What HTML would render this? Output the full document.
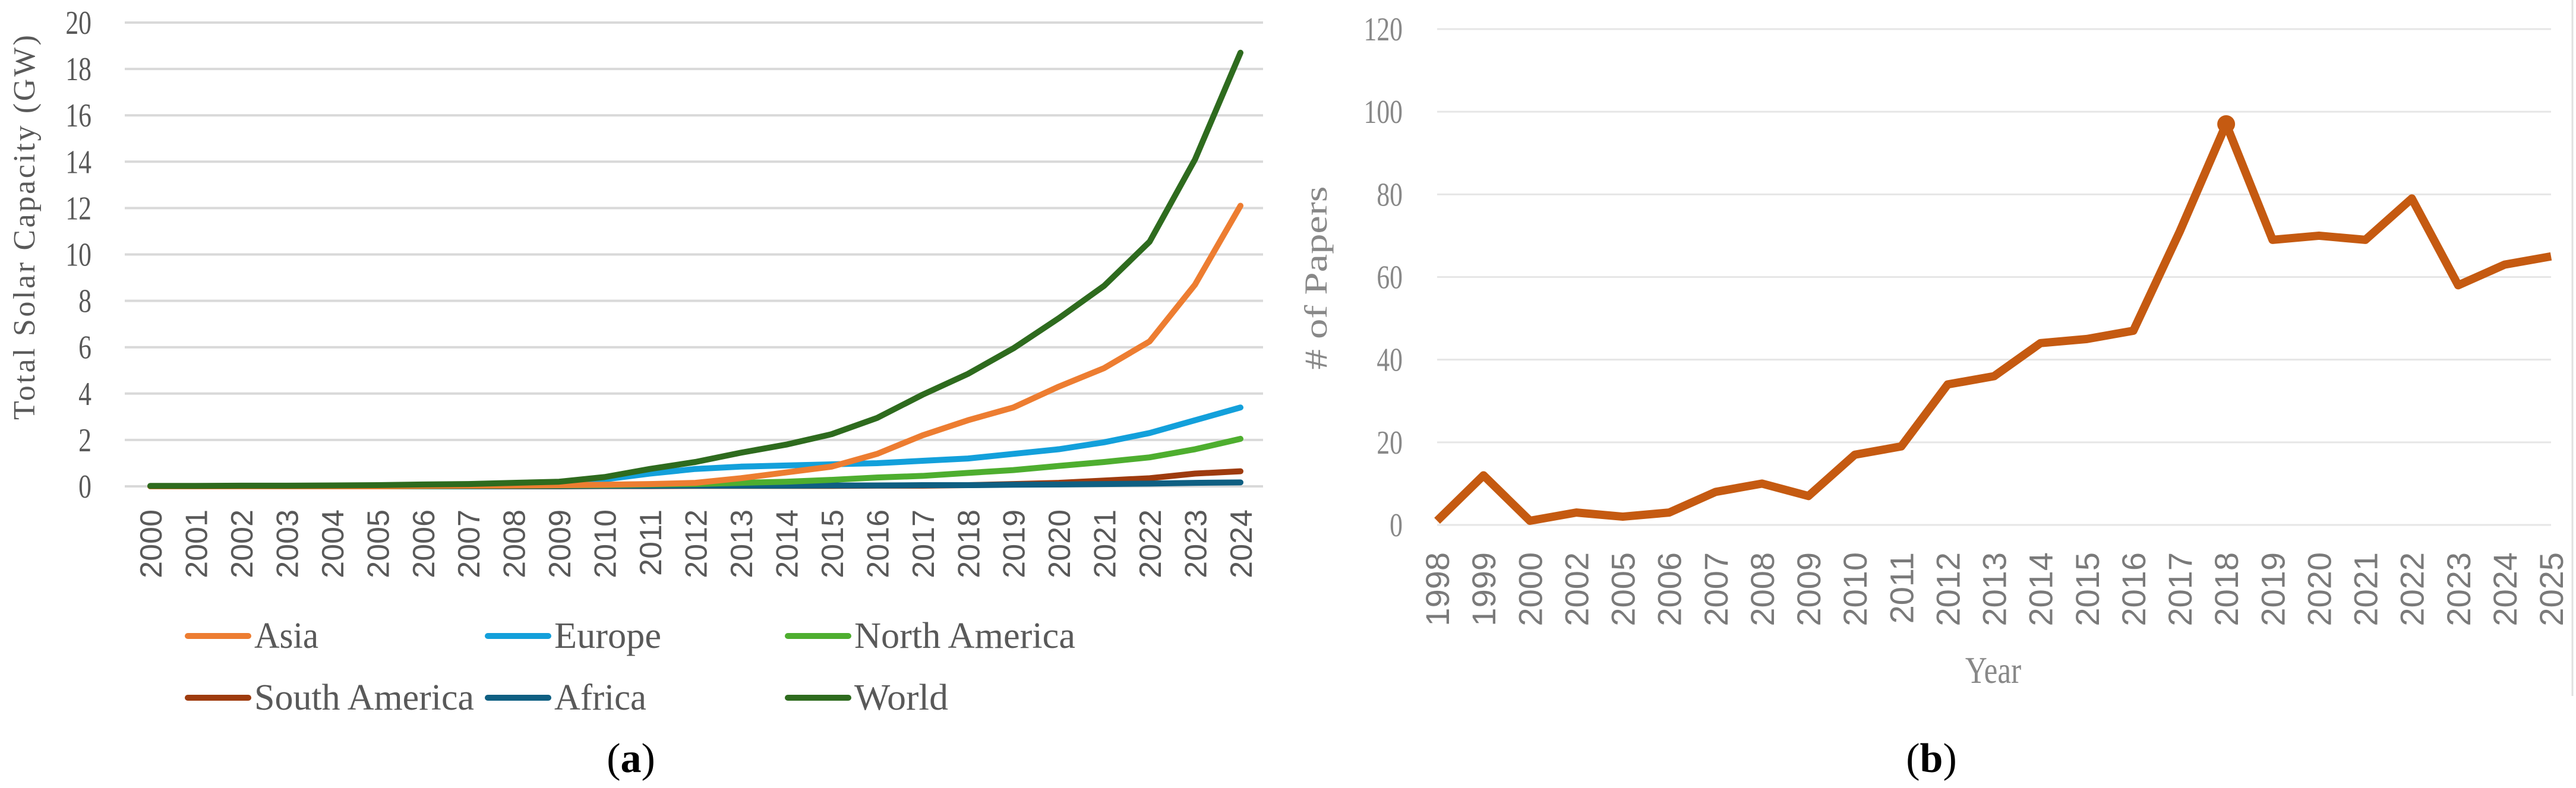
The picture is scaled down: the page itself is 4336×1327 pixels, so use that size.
<!DOCTYPE html>
<html><head><meta charset="utf-8"><style>
html,body{margin:0;padding:0;background:#fff;}
svg{display:block;}
</style></head><body>
<svg id="chart" xmlns="http://www.w3.org/2000/svg" width="4336" height="1327" viewBox="0 0 4336 1327">
<rect width="4336" height="1327" fill="#fff"/>
<g id="ga"></g>
<g id="gb"></g>
</svg>
<script>
const yearsA = ["2000","2001","2002","2003","2004","2005","2006","2007","2008","2009","2010","2011","2012","2013","2014","2015","2016","2017","2018","2019","2020","2021","2022","2023","2024"];
const asia = [0,0,0,0,0,0,0.02,0.03,0.04,0.05,0.07,0.1,0.15,0.35,0.6,0.85,1.4,2.2,2.85,3.4,4.3,5.1,6.25,8.7,12.1];
const europe = [0,0,0,0,0,0.01,0.03,0.05,0.1,0.15,0.3,0.55,0.75,0.85,0.9,0.95,1.0,1.1,1.2,1.4,1.6,1.9,2.3,2.85,3.4];
const northAmerica = [0,0,0,0,0,0,0.01,0.02,0.03,0.04,0.05,0.08,0.1,0.15,0.2,0.28,0.38,0.45,0.58,0.7,0.88,1.05,1.25,1.6,2.05];
const southAmerica = [0,0,0,0,0,0,0,0,0,0,0.01,0.01,0.02,0.02,0.02,0.02,0.03,0.03,0.05,0.1,0.15,0.25,0.35,0.55,0.65];
const africa = [0,0,0,0,0,0,0,0,0.01,0.01,0.02,0.02,0.03,0.03,0.03,0.04,0.04,0.05,0.05,0.07,0.08,0.1,0.12,0.15,0.17];
const world = [0.02,0.02,0.03,0.03,0.04,0.05,0.08,0.1,0.15,0.2,0.4,0.75,1.05,1.45,1.8,2.25,2.95,3.95,4.85,5.95,7.25,8.65,10.55,14.1,18.7];
const ticksA = [0,2,4,6,8,10,12,14,16,18,20];

const yearsB = ["1998","1999","2000","2002","2005","2006","2007","2008","2009","2010","2011","2012","2013","2014","2015","2016","2017","2018","2019","2020","2021","2022","2023","2024","2025"];
const papers = [1,12,1,3,2,3,8,10,7,17,19,34,36,44,45,47,71,97,69,70,69,79,58,63,65];
const ticksB = [0,20,40,60,80,100,120];

const NS="http://www.w3.org/2000/svg";
function mk(parent,tag,attrs,text){const e=document.createElementNS(NS,tag);for(const k in attrs)e.setAttribute(k,attrs[k]);if(text!==undefined)e.textContent=text;parent.appendChild(e);return e;}

// ---- Chart A ----
const ga=document.getElementById('ga');
const ax0=253, ax1=2088, ay0=819, ay1=38;
const xA=i=>ax0+(ax1-ax0)*i/(yearsA.length-1);
const yA=v=>ay0+(ay1-ay0)*v/20;
ticksA.forEach(t=>{
  const l=mk(ga,'line',{x1:210,x2:2126,y1:yA(t),y2:yA(t),stroke:'#d9d9d9','stroke-width':4});
  
  
  const tx=mk(ga,'text',{x:154,y:yA(t)+19,'text-anchor':'end','font-family':'Liberation Serif, serif','font-size':56,fill:'#595959',transform:`translate(154 0) scale(0.78 1) translate(-154 0)`},String(t));
  
  
});
yearsA.forEach((y,i)=>{
  const x=xA(i);
  const tx=mk(ga,'text',{x:0,y:0,'text-anchor':'end','font-family':'Liberation Sans, sans-serif','font-size':52,fill:'#595959',transform:`translate(${x+19} 858) rotate(-90)`},y);
  
  
});
const yt=mk(ga,'text',{x:0,y:0,'text-anchor':'middle','font-family':'Liberation Serif, serif','font-size':52,fill:'#595959',textLength:648,transform:'translate(58 383) rotate(-90)'},'Total Solar Capacity (GW)');



const seriesA=[
  {name:'south-america',data:southAmerica,color:'#9E3B0E'},
  {name:'africa',data:africa,color:'#0F5F82'},
  {name:'north-america',data:northAmerica,color:'#4EAE2F'},
  {name:'europe',data:europe,color:'#13A0DB'},
  {name:'asia',data:asia,color:'#ED7D31'},
  {name:'world',data:world,color:'#2E6B1E'}
];
seriesA.forEach(s=>{
  const p=mk(ga,'polyline',{points:s.data.map((v,i)=>xA(i)+','+yA(v)).join(' '),fill:'none',stroke:s.color,'stroke-width':10,'stroke-linejoin':'round','stroke-linecap':'round'});
  
  
});
const legendOrder=[['asia',316,1071,'Asia',108],['europe',821,1071,'Europe',180],['north-america',1326,1071,'North America',372],['south-america',316,1175,'South America',370],['africa',821,1175,'Africa',155],['world',1326,1175,'World',158]];
legendOrder.forEach(l=>{
  const s=seriesA.find(q=>q.name===l[0]);
  const g=mk(ga,'g',{});
  
  
  mk(g,'line',{x1:l[1],x2:l[1]+102,y1:l[2],y2:l[2],stroke:s.color,'stroke-width':10,'stroke-linecap':'round'});
  mk(g,'text',{x:l[1]+112,y:l[2]+20,'font-family':'Liberation Serif, serif','font-size':62,fill:'#595959',textLength:l[4],lengthAdjust:'spacingAndGlyphs'},l[3]);
});
const ca=mk(ga,'text',{x:1062,y:1300,'text-anchor':'middle','font-family':'Liberation Serif, serif','font-size':70,fill:'#000'});


ca.innerHTML='(<tspan font-weight="bold">a</tspan>)';

// ---- Chart B ----
const gb=document.getElementById('gb');
const bx0=2419, bx1=4294, by0=884, by1=49;
const xB=i=>bx0+(bx1-bx0)*i/(yearsB.length-1);
const yB=v=>by0+(by1-by0)*v/120;
ticksB.forEach(t=>{
  const l=mk(gb,'line',{x1:2419,x2:4294,y1:yB(t),y2:yB(t),stroke:'#e6e6e6','stroke-width':3});
  
  
  const tx=mk(gb,'text',{x:2361,y:yB(t)+19,'text-anchor':'end','font-family':'Liberation Serif, serif','font-size':56,fill:'#888',transform:`translate(2361 0) scale(0.78 1) translate(-2361 0)`},String(t));
  
  
});
const rb=mk(gb,'line',{x1:4330,x2:4330,y1:0,y2:1172,stroke:'#e0e0e0','stroke-width':3});


yearsB.forEach((y,i)=>{
  const x=xB(i);
  const tx=mk(gb,'text',{x:0,y:0,'text-anchor':'end','font-family':'Liberation Sans, sans-serif','font-size':56,fill:'#7a7a7a',transform:`translate(${x+20} 930) rotate(-90)`},y);
  
  
});
const xt=mk(gb,'text',{x:3355,y:1150,'text-anchor':'middle','font-family':'Liberation Serif, serif','font-size':64,fill:'#888',transform:'translate(3355 0) scale(0.8 1) translate(-3355 0)'},'Year');


const ytb=mk(gb,'text',{x:0,y:0,'text-anchor':'middle','font-family':'Liberation Serif, serif','font-size':54,fill:'#888',textLength:309,lengthAdjust:'spacingAndGlyphs',transform:'translate(2233 468) rotate(-90)'},'# of Papers');


const pl=mk(gb,'polyline',{points:papers.map((v,i)=>xB(i)+','+yB(v)).join(' '),fill:'none',stroke:'#C55A11','stroke-width':14,'stroke-linejoin':'round'});


let mi=papers.indexOf(Math.max(...papers));
const mc=mk(gb,'circle',{cx:xB(mi),cy:yB(papers[mi]),r:15,fill:'#C55A11'});


const cb=mk(gb,'text',{x:3251,y:1300,'text-anchor':'middle','font-family':'Liberation Serif, serif','font-size':70,fill:'#000'});


cb.innerHTML='(<tspan font-weight="bold">b</tspan>)';
</script>
</body></html>
